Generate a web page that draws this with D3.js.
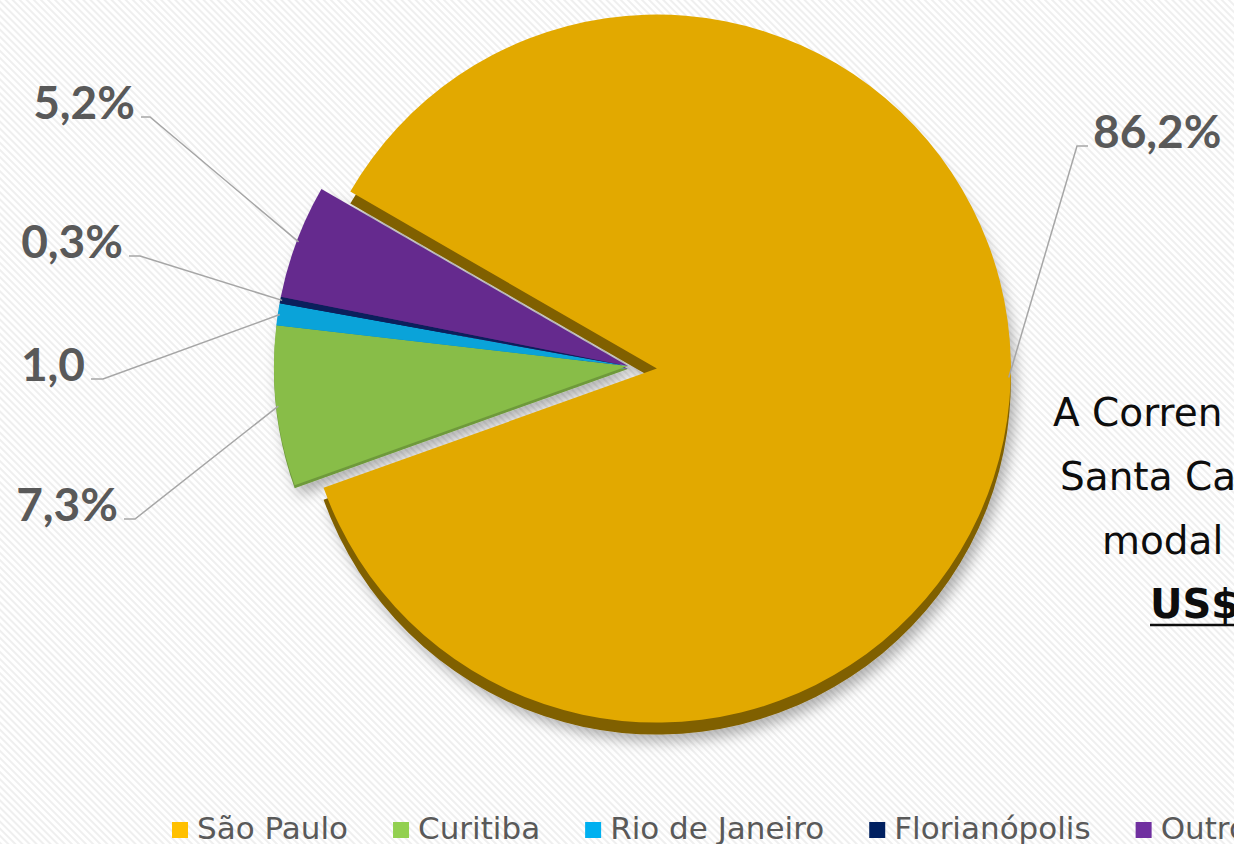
<!DOCTYPE html>
<html>
<head>
<meta charset="utf-8">
<script src="https://cdn.jsdelivr.net/npm/d3@7"></script>
<style>
  html, body { margin: 0; padding: 0; overflow: hidden; background: #fff; }
</style>
</head>
<body>
<svg id="chart"></svg>
<script>
// data
const categories = ["São Paulo", "Curitiba", "Rio de Janeiro", "Florianópolis", "Outros"];
const values = [86.2, 7.3, 1.0, 0.3, 5.2];
const valueLabels = ["86,2%", "7,3%", "1,0", "0,3%", "5,2%"];
const topColors = ["#e2a900", "#88bd48", "#0aa3d9", "#0b1f5c", "#652a8e"];
const legendColors = ["#ffc000", "#92d050", "#00b0f0", "#002060", "#7030a0"];
const noteLines = ["A Corren", "Santa Ca", "modal", "US$"];

const svgWidth = 1234;
const svgHeight = 844;

const svg = d3.select("#chart")
  .attr("width", svgWidth)
  .attr("height", svgHeight);

// hatched background
const defs = svg.append("defs");
const pat = defs.append("pattern")
  .attr("id", "hatch")
  .attr("patternUnits", "userSpaceOnUse")
  .attr("width", 5)
  .attr("height", 5)
  .attr("patternTransform", "rotate(45)");
pat.append("rect").attr("width", 5).attr("height", 5).attr("fill", "#ffffff");
pat.append("line")
  .attr("x1", 0).attr("x2", 5).attr("y1", 1).attr("y2", 1)
  .attr("stroke", "#ebebeb").attr("stroke-width", 1.6);

svg.append("rect")
  .attr("width", svgWidth)
  .attr("height", svgHeight)
  .attr("fill", "url(#hatch)");

const shadow = defs.append("filter")
  .attr("id", "shadow")
  .attr("x", "-20%").attr("y", "-20%")
  .attr("width", "140%").attr("height", "140%");
shadow.append("feDropShadow")
  .attr("dx", 5).attr("dy", 7)
  .attr("stdDeviation", 7)
  .attr("flood-color", "#000")
  .attr("flood-opacity", 0.3);

// pie geometry
const cx = 628, cy = 366;
const radius = 354;
const explode = 29;

const pie = d3.pie()
  .sort(null)
  .value(d => d)
  .startAngle(-60 * Math.PI / 180)
  .endAngle(300 * Math.PI / 180);

const arcs = pie(values);

const arc = d3.arc()
  .innerRadius(0)
  .outerRadius(radius);

// offset of each slice (only São Paulo is pulled out)
function offset(d, i) {
  const k = i === 0 ? explode : 0;
  const mid = (d.startAngle + d.endAngle) / 2;
  return [k * Math.sin(mid), -k * Math.cos(mid)];
}

// thickness of the side wall, the big slice shows most of it
const depth = (d, i) => i === 0 ? 12 : 3;

const pieG = svg.append("g")
  .attr("transform", `translate(${cx},${cy})`);

// side walls first, shifted down for a 3D look
const sides = pieG.append("g").attr("filter", "url(#shadow)");
sides.selectAll("path")
  .data(arcs)
  .enter().append("path")
  .attr("transform", (d, i) => {
    const o = offset(d, i);
    return `translate(${o[0]},${o[1] + depth(d, i)})`;
  })
  .attr("d", arc)
  .attr("fill", (d, i) => d3.color(topColors[i]).darker(i === 0 ? 1.6 : 0.6));

// top faces
pieG.append("g").selectAll("path")
  .data(arcs)
  .enter().append("path")
  .attr("transform", (d, i) => {
    const o = offset(d, i);
    return `translate(${o[0]},${o[1]})`;
  })
  .attr("d", arc)
  .attr("fill", (d, i) => topColors[i]);

// data labels with leader lines (label spots placed like the original)
const labelSpots = [
  { x: 1093, y: 148, anchor: "start", elbow: -16 },
  { x: 118, y: 521, anchor: "end", elbow: 17 },
  { x: 85, y: 381, anchor: "end", elbow: 18 },
  { x: 123, y: 258, anchor: "end", elbow: 17 },
  { x: 135, y: 119, anchor: "end", elbow: 15 }
];

const labelG = svg.append("g");

arcs.forEach((d, i) => {
  const spot = labelSpots[i];
  const o = offset(d, i);
  // the big slice's line meets the rim a little above its middle
  const mid = (d.startAngle + d.endAngle) / 2 - (i === 0 ? 0.065 : 0);
  const ex = cx + o[0] + (radius - 2) * Math.sin(mid);
  const ey = cy + o[1] - (radius - 2) * Math.cos(mid);
  const sx = spot.anchor === "end" ? spot.x + 6 : spot.x - 5;
  const ly = spot.y - 2;
  labelG.append("polyline")
    .attr("points", [[sx, ly], [sx + spot.elbow - (spot.anchor === "end" ? 6 : -5), ly], [ex, ey]].map(p => p.join(",")).join(" "))
    .attr("fill", "none")
    .attr("stroke", "#a6a6a6")
    .attr("stroke-width", 1.5);
  labelG.append("text")
    .attr("x", spot.x)
    .attr("y", spot.y)
    .attr("text-anchor", spot.anchor)
    .attr("font-family", "Lato, 'DejaVu Sans', sans-serif")
    .attr("font-weight", "bold")
    .attr("font-size", 46)
    .attr("fill", "#595959")
    .text(valueLabels[i]);
});

// side note, cut by the right edge like the original
const noteX = [1053, 1060, 1102, 1150];
const noteG = svg.append("g")
  .attr("font-family", "'DejaVu Sans', sans-serif")
  .attr("fill", "#0d0d0d");
noteLines.forEach((t, i) => {
  const last = i === noteLines.length - 1;
  noteG.append("text")
    .attr("x", noteX[i])
    .attr("y", 426 + i * 64)
    .attr("font-size", last ? 40 : 39)
    .attr("font-weight", last ? "bold" : "normal")
    .text(t);
});
noteG.append("line")
  .attr("x1", noteX[3]).attr("x2", svgWidth)
  .attr("y1", 426 + 3 * 64 + 7).attr("y2", 426 + 3 * 64 + 7)
  .attr("stroke", "#0d0d0d")
  .attr("stroke-width", 2.5);

// legend
const legend = svg.append("g")
  .attr("font-family", "'DejaVu Sans', sans-serif")
  .attr("font-size", 31)
  .attr("fill", "#595959");
let lx = 172;
categories.forEach((c, i) => {
  legend.append("rect")
    .attr("x", lx).attr("y", 822)
    .attr("width", 16).attr("height", 16)
    .attr("fill", legendColors[i]);
  const t = legend.append("text")
    .attr("x", lx + 25)
    .attr("y", 839)
    .text(c);
  lx += 25 + t.node().getComputedTextLength() + 45;
});
</script>
</body>
</html>
